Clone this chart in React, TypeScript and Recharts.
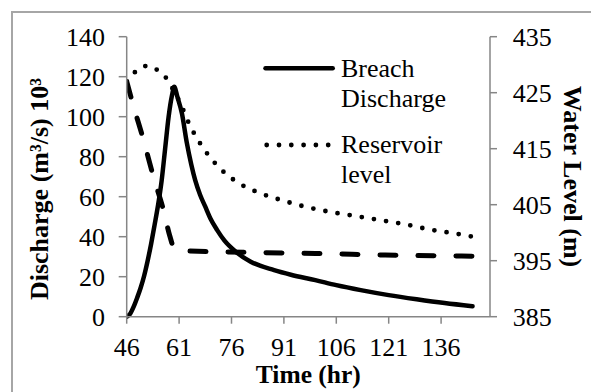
import React from 'react';
import { LineChart, Line, XAxis, YAxis, Legend } from 'recharts';

// Breach discharge (10^3 m3/s) vs time (hr)
const breachTime = [46, 47, 48, 49, 50, 51, 52, 53, 54, 55, 56, 57, 58, 59, 59.6, 60.5, 61.8, 63.2, 64.5, 65.6, 67, 68.5, 70, 71.9, 74, 77.2, 81.5, 88.2, 93, 100, 106, 113, 121, 129, 137, 145];
const breachQ = [0, 1.5, 5, 9.5, 14.5, 20.5, 28, 36.5, 46, 56, 68, 84, 100, 111, 115, 110, 101.7, 87, 76, 68.3, 61, 55, 49, 43.3, 38, 32.5, 27.5, 23.3, 21, 18.3, 15.8, 13.3, 10.8, 8.7, 6.8, 5.2];

// Reservoir level (m)
const resTime = [46, 48.6, 51.9, 55.1, 57.7, 59.5, 61.3, 63.9, 67.5, 71.9, 77.2, 83.6, 90.4, 97.4, 104.4, 111.3, 118, 125.7, 132.5, 139.6, 145];
const resLevel = [427, 428.8, 429.8, 428.9, 427.3, 425.3, 423.2, 419.4, 415.5, 412, 409.2, 407.2, 405.8, 404.6, 403.7, 403.0, 402.3, 401.5, 400.6, 399.9, 399.3];

// Breach bottom elevation (m)
const bedTime = [46, 48, 50.8, 53.6, 56.5, 58.3, 59.6, 61, 80, 100, 120, 145];
const bedLevel = [427, 422.5, 416.6, 410.1, 404.1, 399.5, 397.2, 396.8, 396.5, 396.3, 396.0, 395.8];

const xTicks = [46, 61, 76, 91, 106, 121, 136];
const leftTicks = [0, 20, 40, 60, 80, 100, 120, 140];
const rightTicks = [385, 395, 405, 415, 425, 435];

const breachData = breachTime.map((t, i) => ({ t, v: breachQ[i] }));
const resData = resTime.map((t, i) => ({ t, v: resLevel[i] }));
const bedData = bedTime.map((t, i) => ({ t, v: bedLevel[i] }));

const FONT = "'Liberation Serif', 'Times New Roman', serif";
const AXIS = '#868686';
const FS = 26;

const tickStyle = { fill: '#000', fontSize: FS, fontFamily: FONT };

function LegendContent() {
  return (
    <svg width={230} height={145} style={{ display: 'block', overflow: 'visible' }}>
      <line x1={10.5} y1={18.3} x2={77.7} y2={18.3} stroke="#000" strokeWidth={4.5} strokeLinecap="round" />
      <text fontFamily={FONT} fontSize={FS} fill="#000">
        <tspan x={86} y={27.3}>Breach</tspan>
        <tspan x={86} y={57.3}>Discharge</tspan>
      </text>
      <line x1={11.7} y1={95} x2={73.6} y2={95} stroke="#000" strokeWidth={4.8} strokeLinecap="round" strokeDasharray="0 12.3" />
      <text fontFamily={FONT} fontSize={FS} fill="#000">
        <tspan x={86} y={103.3}>Reservoir</tspan>
        <tspan x={86} y={132.7}>level</tspan>
      </text>
    </svg>
  );
}

export default function App() {
  return (
    <div style={{ position: 'absolute', left: 0, top: 0, width: 591, height: 392, overflow: 'hidden', background: '#fff', fontFamily: FONT }}>
      <div style={{ position: 'absolute', left: 11, top: 11, width: 700, height: 500, borderLeft: '2px solid #a6a6a6', borderTop: '2px solid #a6a6a6' }} />
      <div style={{ position: 'absolute', left: 0, top: 0 }}>
        <LineChart width={591} height={392} margin={{ top: 36.7, right: 21, bottom: 25.3, left: 66.7 }} style={{ fontFamily: FONT }}>
          <XAxis
            dataKey="t"
            type="number"
            domain={[46, 150]}
            ticks={xTicks}
            allowDataOverflow
            height={50}
            tickSize={7}
            tickMargin={14}
            tick={tickStyle}
            axisLine={{ stroke: AXIS, strokeWidth: 1.5 }}
            tickLine={{ stroke: AXIS, strokeWidth: 1.5 }}
          />
          <YAxis
            yAxisId="left"
            domain={[0, 140]}
            ticks={leftTicks}
            width={60}
            tickSize={8}
            tickMargin={13.7}
            tick={tickStyle}
            axisLine={{ stroke: AXIS, strokeWidth: 1.5 }}
            tickLine={{ stroke: AXIS, strokeWidth: 1.5 }}
          />
          <YAxis
            yAxisId="right"
            orientation="right"
            domain={[385, 435]}
            ticks={rightTicks}
            width={80}
            tickSize={7}
            tickMargin={15.7}
            tick={tickStyle}
            axisLine={{ stroke: AXIS, strokeWidth: 1.5 }}
            tickLine={{ stroke: AXIS, strokeWidth: 1.5 }}
          />
          <Legend
            layout="vertical"
            align="center"
            verticalAlign="middle"
            content={() => <LegendContent />}
            wrapperStyle={{ left: 255, top: 50, width: 230, height: 145 }}
          />
          <Line
            yAxisId="right"
            data={bedData}
            dataKey="v"
            name="Breach bottom elevation"
            type="monotone"
            stroke="#000"
            strokeWidth={5}
            strokeDasharray="16 22"
            strokeLinecap="round"
            dot={false}
            activeDot={false}
            legendType="none"
            isAnimationActive={false}
          />
          <Line
            yAxisId="right"
            data={resData}
            dataKey="v"
            name="Reservoir level"
            type="monotone"
            stroke="#000"
            strokeWidth={4.8}
            strokeDasharray="0 12.3"
            strokeLinecap="round"
            dot={false}
            activeDot={false}
            isAnimationActive={false}
          />
          <Line
            yAxisId="left"
            data={breachData}
            dataKey="v"
            name="Breach Discharge"
            type="monotone"
            stroke="#000"
            strokeWidth={4.5}
            strokeLinecap="round"
            dot={false}
            activeDot={false}
            isAnimationActive={false}
          />
        </LineChart>
      </div>
      <svg width={591} height={392} style={{ position: 'absolute', left: 0, top: 0, pointerEvents: 'none' }}>
        <text x={308.3} y={383} textAnchor="middle" fontFamily={FONT} fontSize={25.5} fontWeight="bold" fill="#000">Time (hr)</text>
        <text transform="translate(48.3,189) rotate(-90)" textAnchor="middle" fontFamily={FONT} fontSize={FS} fontWeight="bold" fill="#000">Discharge (m³/s) 10³</text>
        <text transform="translate(564,176.5) rotate(90)" textAnchor="middle" fontFamily={FONT} fontSize={FS} fontWeight="bold" fill="#000">Water Level (m)</text>
      </svg>
    </div>
  );
}
